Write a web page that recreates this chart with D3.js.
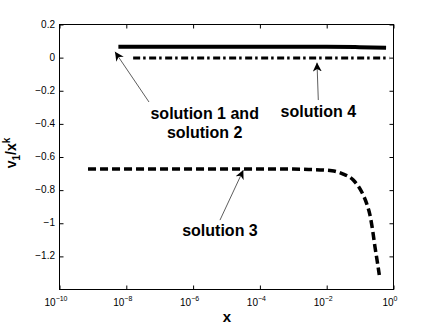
<!DOCTYPE html>
<html>
<head>
<meta charset="utf-8">
<script src="https://cdn.jsdelivr.net/npm/d3@7"></script>
<style>
  body { margin: 0; background: #fff; }
  svg { display: block; font-family: "Liberation Sans", Arial, Helvetica, sans-serif; }
</style>
</head>
<body>
<div id="chart"></div>
<script>
const WIDTH = 435;
const HEIGHT = 327;

// plot box in pixels
const LEFT = 59, RIGHT = 393, TOP = 24, BOTTOM = 289;

const X_TICKS = [1e-10, 1e-8, 1e-6, 1e-4, 1e-2, 1];
const X_TICK_EXP = ["-10", "-8", "-6", "-4", "-2", "0"];
const Y_TICKS = [0.2, 0, -0.2, -0.4, -0.6, -0.8, -1, -1.2];
const Y_TICK_LABELS = ["0.2", "0", "\u22120.2", "\u22120.4", "\u22120.6", "\u22120.8", "\u22121", "\u22121.2"];

// solution 1 and solution 2 (solid, on top of each other)
const sol12X = [6e-9, 1e-6, 1e-4, 1e-2, 0.1, 0.62];
const sol12Y = [0.063, 0.063, 0.063, 0.062, 0.060, 0.057];

// solution 4 (dash-dot)
const sol4X = [1.66e-8, 1e-4, 0.78];
const sol4Y = [-0.005, -0.005, -0.005];

// solution 3 (dashed)
const sol3X = [7.4e-10, 1e-8, 1e-6, 1e-4, 1e-3, 3e-3, 0.0148, 0.0324, 0.0646, 0.115,
               0.162, 0.204, 0.245, 0.288, 0.339, 0.389];
const sol3Y = [-0.675, -0.675, -0.675, -0.675, -0.676, -0.678, -0.686, -0.706, -0.742, -0.813,
               -0.883, -0.953, -1.044, -1.145, -1.235, -1.316];

// annotations: text position and arrow (tail -> head) in data coordinates
const annLines = [["solution 1 and", "solution 2"], ["solution 4"], ["solution 3"]];
const annTextX = [2.3e-6, 5.8e-3, 6.6e-6];
const annTextY = [-0.372, -0.362, -1.081];
const annTailX = [4.95e-8, 5.8e-3, 6.6e-6];
const annTailY = [-0.271, -0.259, -0.984];
const annHeadX = [4.75e-9, 5.3e-3, 3.3e-5];
const annHeadY = [0.032, -0.033, -0.682];

const x = d3.scaleLog().domain([1e-10, 1]).range([LEFT, RIGHT]);
const y = d3.scaleLinear().domain([-1.4, 0.2]).range([BOTTOM, TOP]);

const svg = d3.select('#chart').append('svg')
  .attr('width', WIDTH).attr('height', HEIGHT);

svg.append('defs').append('marker')
  .attr('id', 'head')
  .attr('viewBox', '0 0 10 10')
  .attr('refX', 10).attr('refY', 5)
  .attr('markerWidth', 9).attr('markerHeight', 9)
  .attr('markerUnits', 'userSpaceOnUse')
  .attr('orient', 'auto')
  .append('path')
  .attr('d', 'M0,0 L10,5 L0,10 L3,5 Z')
  .attr('fill', '#000');

// box
svg.append('rect')
  .attr('x', LEFT + 0.5).attr('y', TOP + 0.5)
  .attr('width', RIGHT - LEFT).attr('height', BOTTOM - TOP)
  .attr('fill', 'none').attr('stroke', '#000').attr('stroke-width', 1);

// axes, ticks pointing inward
const xAxisB = d3.axisBottom(x).tickValues(X_TICKS).tickSize(-4).tickFormat('');
const xAxisT = d3.axisTop(x).tickValues(X_TICKS).tickSize(-4).tickFormat('');
const yAxisL = d3.axisLeft(y).tickValues(Y_TICKS).tickSize(-4).tickFormat('');
const yAxisR = d3.axisRight(y).tickValues(Y_TICKS).tickSize(-4).tickFormat('');
[[xAxisB, `translate(0.5,${BOTTOM + 0.5})`], [xAxisT, `translate(0.5,${TOP + 0.5})`],
 [yAxisL, `translate(${LEFT + 0.5},0.5)`], [yAxisR, `translate(${RIGHT + 0.5},0.5)`]]
  .forEach(([ax, tr]) => {
    const g = svg.append('g').attr('transform', tr).call(ax);
    g.select('.domain').remove();
    g.selectAll('line').attr('stroke', '#000');
  });

// tick labels
svg.append('g').selectAll('text').data(Y_TICKS).enter()
  .append('text')
  .attr('x', LEFT - 4)
  .attr('y', d => y(d) + 3.5)
  .attr('text-anchor', 'end')
  .attr('font-size', 10)
  .text((d, i) => Y_TICK_LABELS[i]);

const xl = svg.append('g').selectAll('text').data(X_TICKS).enter()
  .append('text')
  .attr('x', d => x(d) - 3)
  .attr('y', 306)
  .attr('text-anchor', 'middle')
  .attr('font-size', 10);
xl.append('tspan').text('10');
xl.append('tspan').attr('dy', -5).attr('font-size', 7).text((d, i) => X_TICK_EXP[i].replace('-', '\u2212'));

// axis labels
svg.append('text')
  .attr('x', 227).attr('y', 322)
  .attr('text-anchor', 'middle')
  .attr('font-size', 15).attr('font-weight', 'bold')
  .text('x');

const yl = svg.append('text')
  .attr('transform', 'translate(16,153) rotate(-90)')
  .attr('text-anchor', 'middle')
  .attr('font-size', 14).attr('font-weight', 'bold');
yl.append('tspan').text('v');
yl.append('tspan').attr('dy', 4).attr('font-size', 10).text('1');
yl.append('tspan').attr('dy', -4).text('/x');
yl.append('tspan').attr('dy', -6).attr('font-size', 10).text('k');

// series
const line = d3.line().x(d => x(d[0])).y(d => y(d[1])).curve(d3.curveMonotoneX);
const series = [
  { xs: sol3X, ys: sol3Y, w: 3.5, dash: '8,4' },
  { xs: sol4X, ys: sol4Y, w: 3, dash: '7,3,2.5,3.5' },
  { xs: sol12X, ys: sol12Y, w: 4, dash: null }
];
svg.append('g').selectAll('path').data(series).enter()
  .append('path')
  .attr('d', s => line(s.xs.map((v, i) => [v, s.ys[i]])))
  .attr('fill', 'none')
  .attr('stroke', '#000')
  .attr('stroke-width', s => s.w)
  .attr('stroke-dasharray', s => s.dash);

// annotations
annLines.forEach((lines, i) => {
  svg.append('line')
    .attr('x1', x(annTailX[i])).attr('y1', y(annTailY[i]))
    .attr('x2', x(annHeadX[i])).attr('y2', y(annHeadY[i]))
    .attr('stroke', '#333').attr('stroke-width', 0.8)
    .attr('marker-end', 'url(#head)');
  const t = svg.append('text')
    .attr('x', x(annTextX[i])).attr('y', y(annTextY[i]))
    .attr('text-anchor', 'middle')
    .attr('font-size', 16).attr('font-weight', 'bold');
  lines.forEach((s, j) => {
    t.append('tspan').attr('x', x(annTextX[i])).attr('dy', j === 0 ? 0 : 19).text(s);
  });
});
</script>
</body>
</html>
